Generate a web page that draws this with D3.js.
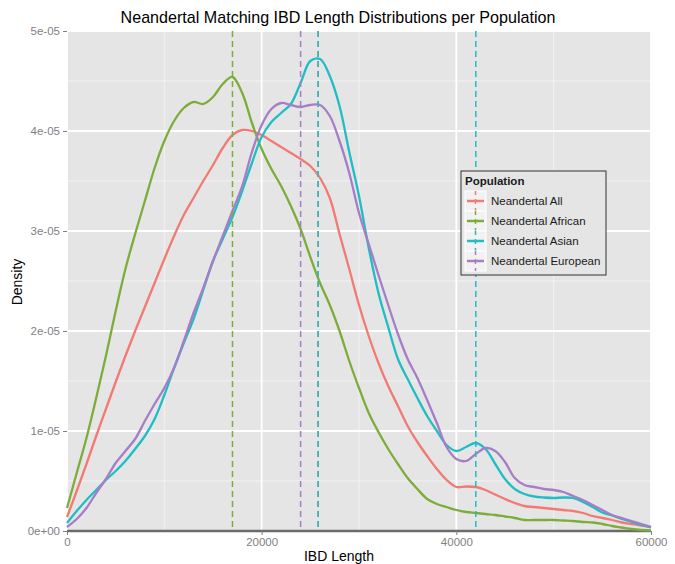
<!DOCTYPE html>
<html>
<head>
<meta charset="utf-8">
<script src="https://cdn.jsdelivr.net/npm/d3@7"></script>
<style>
  body { margin: 0; background: #fff; }
  svg { display: block; font-family: "Liberation Sans", Arial, Helvetica, sans-serif; }
</style>
</head>
<body>
<div class="chart"></div>
<script>
// x grid of the density estimates (IBD length)
const ibdLength = [0,1000,2000,3000,4000,5000,6000,7000,8000,9000,10000,11000,12000,13000,14000,15000,16000,17000,18000,19000,
  20000,21000,22000,23000,24000,25000,26000,27000,28000,29000,30000,31000,32000,33000,34000,35000,36000,37000,38000,39000,
  40000,41000,42000,43000,44000,45000,46000,47000,48000,49000,50000,51000,52000,53000,54000,55000,56000,57000,58000,59000,60000];

// densities, in units of 1e-05
const densAll = [0.14,0.40,0.67,0.95,1.22,1.49,1.75,2.00,2.24,2.48,2.72,2.95,3.16,3.33,3.50,3.66,3.83,3.96,4.01,4.00,
  3.96,3.90,3.84,3.78,3.72,3.65,3.53,3.33,2.97,2.62,2.26,1.95,1.68,1.45,1.25,1.05,0.89,0.75,0.62,0.51,
  0.44,0.445,0.44,0.41,0.365,0.32,0.28,0.25,0.24,0.23,0.22,0.21,0.20,0.18,0.15,0.13,0.11,0.085,0.07,0.055,0.04];
const densAfrican = [0.23,0.58,0.93,1.33,1.75,2.20,2.62,2.97,3.30,3.63,3.90,4.10,4.23,4.29,4.27,4.34,4.47,4.54,4.38,4.08,
  3.82,3.62,3.45,3.25,3.02,2.74,2.48,2.26,2.00,1.70,1.43,1.18,0.99,0.82,0.67,0.53,0.42,0.32,0.27,0.24,
  0.21,0.19,0.18,0.17,0.16,0.145,0.13,0.11,0.11,0.11,0.11,0.105,0.10,0.09,0.085,0.07,0.05,0.035,0.02,0.01,0.005];
const densAsian = [0.08,0.20,0.31,0.41,0.51,0.60,0.70,0.82,0.95,1.12,1.36,1.63,1.88,2.12,2.41,2.70,2.92,3.14,3.40,3.68,
  3.94,4.09,4.18,4.27,4.48,4.70,4.72,4.55,4.25,3.79,3.35,2.83,2.38,2.04,1.72,1.52,1.33,1.15,1.00,0.86,
  0.80,0.84,0.88,0.82,0.67,0.52,0.42,0.37,0.345,0.335,0.33,0.335,0.33,0.29,0.24,0.185,0.155,0.12,0.09,0.06,0.035];
const densEuropean = [0.04,0.12,0.23,0.38,0.52,0.68,0.80,0.92,1.10,1.27,1.43,1.63,1.90,2.18,2.43,2.70,2.95,3.20,3.45,3.79,
  4.06,4.22,4.28,4.26,4.24,4.26,4.26,4.15,3.90,3.58,3.18,2.87,2.56,2.26,1.97,1.72,1.53,1.31,1.08,0.84,
  0.72,0.70,0.77,0.83,0.80,0.69,0.53,0.46,0.44,0.42,0.41,0.39,0.35,0.31,0.26,0.21,0.16,0.13,0.10,0.07,0.04];

const populations = ["Neandertal All", "Neandertal African", "Neandertal Asian", "Neandertal European"];
const popColors = ["#F17A72", "#7CAD3A", "#1FBDC4", "#A67DC6"];

// dashed reference lines (population, IBD length)
const vlinePop = ["Neandertal All", "Neandertal African", "Neandertal Asian", "Neandertal European", "Neandertal Asian"];
const vlineX = [25800, 17000, 25800, 24000, 42000];

const xTicks = [0, 20000, 40000, 60000];
const xMinor = [10000, 30000, 50000];
const yTicks = [0, 1e-5, 2e-5, 3e-5, 4e-5, 5e-5];
const yTickLabels = ["0e+00", "1e-05", "2e-05", "3e-05", "4e-05", "5e-05"];
const yMinor = [0.5e-5, 1.5e-5, 2.5e-5, 3.5e-5, 4.5e-5];

const width = 675, height = 564;
const margin = {top: 31, right: 24, bottom: 33, left: 67};
const pw = width - margin.left - margin.right,
      ph = height - margin.top - margin.bottom;

const series = [densAll, densAfrican, densAsian, densEuropean].map((vals, i) => ({
  name: populations[i],
  values: vals.map((v, j) => ({x: ibdLength[j], y: v * 1e-5}))
}));

const xScale = d3.scaleLinear().domain([0, 60000]).range([0, pw]);
const yScale = d3.scaleLinear().domain([0, 5e-5]).range([ph, 0]);
const colorScale = d3.scaleOrdinal().domain(populations).range(popColors);

const svg = d3.select(".chart").append("svg")
  .attr("width", width).attr("height", height);

const g = svg.append("g")
  .attr("transform", `translate(${margin.left},${margin.top})`);

// panel
g.append("rect").attr("width", pw).attr("height", ph).attr("fill", "#E5E5E5");

g.selectAll(".xminor").data(xMinor).enter().append("line")
  .attr("x1", d => xScale(d)).attr("x2", d => xScale(d))
  .attr("y1", 0).attr("y2", ph)
  .attr("stroke", "#F2F2F2").attr("stroke-width", 1);
g.selectAll(".yminor").data(yMinor).enter().append("line")
  .attr("x1", 0).attr("x2", pw)
  .attr("y1", d => yScale(d)).attr("y2", d => yScale(d))
  .attr("stroke", "#F2F2F2").attr("stroke-width", 1);
g.selectAll(".xmajor").data(xTicks).enter().append("line")
  .attr("x1", d => xScale(d)).attr("x2", d => xScale(d))
  .attr("y1", 0).attr("y2", ph)
  .attr("stroke", "#fff").attr("stroke-width", 1.8);
g.selectAll(".ymajor").data(yTicks).enter().append("line")
  .attr("x1", 0).attr("x2", pw)
  .attr("y1", d => yScale(d)).attr("y2", d => yScale(d))
  .attr("stroke", "#fff").attr("stroke-width", 1.8);

// zero line
g.append("line")
  .attr("x1", 0).attr("x2", pw)
  .attr("y1", yScale(0)).attr("y2", yScale(0))
  .attr("stroke", "#6b6b6b").attr("stroke-width", 2.5);

const line = d3.line()
  .x(d => xScale(d.x))
  .y(d => yScale(d.y))
  .curve(d3.curveCatmullRom);

g.selectAll(".dens").data(series).enter().append("path")
  .attr("d", d => line(d.values))
  .attr("fill", "none")
  .attr("stroke", d => colorScale(d.name))
  .attr("stroke-width", 2.3)
  .attr("stroke-linejoin", "round");

g.selectAll(".vline").data(vlineX).enter().append("line")
  .attr("x1", d => xScale(d)).attr("x2", d => xScale(d))
  .attr("y1", 0).attr("y2", ph)
  .attr("stroke", (d, i) => colorScale(vlinePop[i]))
  .attr("stroke-width", 1.5)
  .attr("stroke-dasharray", "6,4");

// axes
const xAxis = d3.axisBottom(xScale).tickValues(xTicks).tickSize(4).tickPadding(3).tickFormat(d3.format("d"));
const yAxis = d3.axisLeft(yScale).tickValues(yTicks).tickSize(4).tickPadding(3)
  .tickFormat((d, i) => yTickLabels[i]);

const xg = g.append("g").attr("transform", `translate(0,${ph})`).call(xAxis);
const yg = g.append("g").call(yAxis);
[xg, yg].forEach(a => {
  a.select(".domain").remove();
  a.selectAll(".tick line").attr("stroke", "#7F7F7F").attr("stroke-width", 1);
  a.selectAll(".tick text").attr("fill", "#7F7F7F").attr("font-size", 11.5)
    .attr("font-family", "'Liberation Sans', Arial, Helvetica, sans-serif");
});

// titles
svg.append("text")
  .attr("x", 338).attr("y", 23)
  .attr("text-anchor", "middle")
  .attr("font-size", 16.1)
  .attr("fill", "#000")
  .text("Neandertal Matching IBD Length Distributions per Population");

svg.append("text")
  .attr("x", 339).attr("y", 561)
  .attr("text-anchor", "middle")
  .attr("font-size", 14)
  .attr("fill", "#000")
  .text("IBD Length");

svg.append("text")
  .attr("transform", "translate(22,282) rotate(-90)")
  .attr("text-anchor", "middle")
  .attr("font-size", 14)
  .attr("fill", "#000")
  .text("Density");

// legend
const legend = svg.append("g").attr("transform", "translate(461,171)");
legend.append("rect")
  .attr("width", 145).attr("height", 104)
  .attr("fill", "#E5E5E5")
  .attr("stroke", "#333").attr("stroke-width", 1);
legend.append("text")
  .attr("x", 4).attr("y", 14)
  .attr("font-size", 11.5).attr("font-weight", "bold")
  .attr("fill", "#1a1a1a")
  .text("Population");

const keys = legend.selectAll(".key").data(populations).enter().append("g")
  .attr("transform", (d, i) => `translate(4,${20 + 20 * i})`);
keys.append("rect")
  .attr("width", 21).attr("height", 20)
  .attr("fill", "#F2F2F2").attr("stroke", "#fff").attr("stroke-width", 1);
keys.append("line")
  .attr("x1", 10.5).attr("x2", 10.5).attr("y1", 0).attr("y2", 20)
  .attr("stroke", d => colorScale(d)).attr("stroke-width", 1.5)
  .attr("stroke-dasharray", "5,4").attr("stroke-dashoffset", 1);
keys.append("line")
  .attr("x1", 2).attr("x2", 19).attr("y1", 10).attr("y2", 10)
  .attr("stroke", d => colorScale(d)).attr("stroke-width", 2.5);
keys.append("text")
  .attr("x", 26).attr("y", 10).attr("dy", "0.36em")
  .attr("font-size", 11.5).attr("fill", "#1a1a1a")
  .text(d => d);
</script>
</body>
</html>
